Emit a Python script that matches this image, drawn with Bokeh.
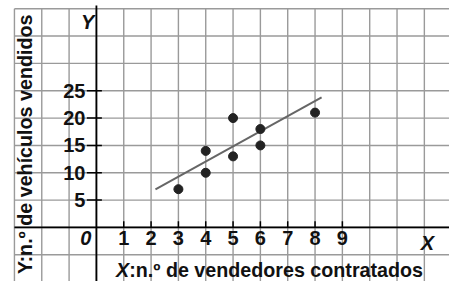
import math
from bokeh.plotting import figure
from bokeh.models import Range1d
from bokeh.core.properties import value
from bokeh.embed import file_html
from bokeh.resources import INLINE

# data
vendedores = [3, 4, 4, 5, 5, 6, 6, 8]
vehiculos = [7, 10, 14, 13, 20, 15, 18, 21]
trend_x = [2.16, 8.24]
trend_y = [6.96, 23.8]

x_ticks = [1, 2, 3, 4, 5, 6, 7, 8, 9]
y_ticks = [5, 10, 15, 20, 25]
grid_x = list(range(-3, 13))
grid_y = list(range(-5, 45, 5))

x_label = ":n.º de vendedores contratados"
y_label = "Y:n.º de vehículos vendidos"

FONT = value("Liberation Sans")
X0, X1 = -3.51, 12.92
Y0, Y1 = -9.88, 41.5

p = figure(width=449, height=281, x_range=Range1d(X0, X1), y_range=Range1d(Y0, Y1),
           x_axis_type=None, y_axis_type=None, toolbar_location=None,
           output_backend="svg", min_border=0)
p.outline_line_color = None
p.background_fill_color = "white"
p.border_fill_color = "white"

gcol = "#9a9a9a"
# grid
p.segment(x0=grid_x, y0=[Y0] * len(grid_x), x1=grid_x, y1=[40] * len(grid_x),
          line_color=gcol, line_width=1.4)
p.segment(x0=[-3] * len(grid_y), y0=grid_y, x1=[X1] * len(grid_y), y1=grid_y,
          line_color=gcol, line_width=1.4)

# axes
p.segment(x0=[-3], y0=[0], x1=[X1], y1=[0], line_color="black", line_width=1.8)
p.segment(x0=[0], y0=[Y0], x1=[0], y1=[40.6], line_color="black", line_width=1.8)
# ticks
p.segment(x0=x_ticks, y0=[0] * len(x_ticks), x1=x_ticks, y1=[1.15] * len(x_ticks),
          line_color="black", line_width=1.5)
p.segment(x0=[-0.35] * len(y_ticks), y0=y_ticks, x1=[0.2] * len(y_ticks), y1=y_ticks,
          line_color="black", line_width=1.5)

txt = dict(text_font=FONT, text_font_size="20px", text_color="#111111",
           text_font_style="bold")
txt_i = dict(txt, text_font_style="bold italic")
lab = dict(text_font=FONT, text_font_size="19.7px", text_color="#111111")

# tick labels
p.text(x=x_ticks, y=[0] * len(x_ticks), text=[str(t) for t in x_ticks],
       text_align="center", text_baseline="top", y_offset=4, **txt)
p.text(x=[0] * len(y_ticks), y=y_ticks, text=[str(t) for t in y_ticks],
       text_align="right", text_baseline="middle", x_offset=-11, **txt)
p.text(x=[0], y=[0], text=["0"], text_align="right", text_baseline="top",
       x_offset=-5, y_offset=4, **txt_i)

# axis names
p.text(x=[0], y=[37.5], text=["Y"], text_align="right", text_baseline="alphabetic",
       x_offset=-2, **txt_i)
p.text(x=[12.11], y=[-2.9], text=["X"], text_align="center", text_baseline="alphabetic",
       **txt_i)

# bottom label
p.text(x=[1.2], y=[-7.75], text=[x_label], text_align="left", text_baseline="middle",
       text_font_style="bold", **lab)
p.text(x=[1.2], y=[-7.75], text=["X"], text_align="right", text_baseline="middle",
       text_font_style="bold italic", **lab)

# left label
p.text(x=[-2.6], y=[15.2], text=[y_label], angle=math.pi / 2, text_align="center",
       text_baseline="middle", text_font_style="bold", **lab)

# trend line and points
p.line(trend_x, trend_y, line_color="#666666", line_width=2)
p.scatter(vendedores, vehiculos, size=9, fill_color="#222222", line_color="#222222")

open("out.html", "w").write(file_html(p, INLINE))
